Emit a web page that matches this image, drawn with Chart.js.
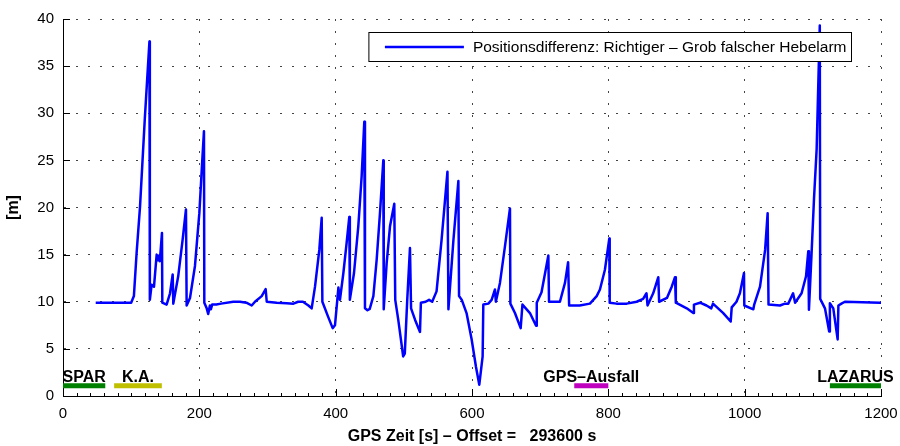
<!DOCTYPE html>
<html>
<head>
<meta charset="utf-8">
<script src="https://cdn.jsdelivr.net/npm/chart.js@4"></script>
<style>
    html, body { margin: 0; padding: 0; background: #fff; }
    #wrap { width: 900px; height: 446px; }
</style>
</head>
<body>
<div id="wrap"><canvas id="diffChart" width="900" height="446"></canvas></div>
<script>
// GPS time relative to offset [s]
const timeSec = [
    48, 100, 104, 108, 113, 120, 126.8, 127.4, 130, 133.5, 137.4, 139.8, 141, 142, 145.2, 145.7,
    152, 157, 160.9, 161.8, 169, 175.5, 180.4, 181.4, 186.3, 193.6, 200, 204.4, 206.8, 207.3,
    210.8, 213, 215.5, 217, 218.8, 225, 231.8, 249.8, 259.6, 269, 276.8, 281.6, 291.5, 297.3,
    298.9, 313.5, 328, 338, 345, 352, 360, 364.8, 369.7, 376, 379.5, 380.5, 389, 395.6, 399,
    402.4, 404, 406.3, 411.3, 416, 420, 420.8, 426.9, 433.2, 438.1, 442, 443, 446.6, 450,
    455.3, 460.2, 465, 469.9, 470.5, 474.8, 479.7, 486, 487.4, 491.8, 495.7, 499, 501.4, 505,
    509, 510.6, 516.4, 523.7, 525, 532, 537, 541.6, 548, 555.4, 564, 565.4, 572.7, 580, 581,
    585, 592, 599.5, 605.8, 610.7, 615.6, 616.6, 624, 628.8, 633.7, 635, 641, 648.4, 655.7,
    656.3, 663, 671.4, 674, 685, 694, 695, 702, 712, 713, 729, 736.4, 741, 742.5, 758, 773,
    782.9, 787.7, 795, 801.4, 802, 812, 827, 841.6, 851, 856, 857.5, 865.8, 873.3, 874.5, 886,
    893, 897.8, 899, 915, 924.7, 925.6, 934.5, 944, 951, 953.5, 968.6, 979.5, 981, 988, 993,
    999, 999.5, 1012.7, 1014, 1022.5, 1030, 1033.7, 1035, 1051.8, 1059, 1064, 1071, 1074,
    1083.5, 1090, 1093.3, 1094.3, 1098, 1101.7, 1105.6, 1110.2, 1110.8, 1117.8, 1124, 1125,
    1130, 1136.4, 1137.5, 1142, 1147, 1198.5, 1200
];

// position difference [m]
const posDiff = [
    9.9, 9.9, 10.6, 15.2, 20.1, 29.4, 37.6, 10.2, 11.8, 11.6, 15.0, 14.4, 14.9, 14.3, 17.3, 9.9,
    9.7, 10.9, 12.9, 9.8, 12.7, 16.6, 19.8, 9.6, 10.4, 13.8, 19.4, 25.1, 28.1, 9.9,
    9.3, 8.7, 9.6, 9.2, 9.7, 9.7, 9.8, 10.0, 10.0, 9.9, 9.6, 10.0, 10.6, 11.35,
    10.0, 9.9, 9.85, 9.8, 10.0, 10.0, 9.6, 9.3, 11.6, 15.5, 18.9, 10.0, 8.4, 7.2, 7.5,
    10.2, 11.5, 10.2, 13.05, 16.2, 19.0, 10.2, 13.05, 18.0, 23.3, 29.1, 9.3, 9.1, 9.25,
    10.6, 14.5, 19.4, 25.0, 9.2, 14.1, 18.0, 20.4, 10.2, 8.1, 6.0, 4.2, 4.5, 10.2,
    15.7, 9.3, 8.1, 6.8, 9.9, 10.0, 10.2, 10.0, 11.1, 16.6, 23.8, 9.2, 16.5, 22.8, 10.6,
    10.2, 8.8, 6.0, 3.1, 1.2, 4.2, 9.7, 9.8, 10.2, 11.3, 10.0, 12.0, 15.9, 19.9,
    9.8, 8.8, 7.2, 9.7, 8.8, 7.45, 9.9, 11.0, 14.9, 10.0, 10.0, 12.0, 14.2, 9.6, 9.6, 9.8,
    10.6, 11.3, 13.4, 16.7, 9.9, 9.8, 9.8, 10.0, 10.3, 10.9, 9.6, 10.9, 12.6, 10.0, 10.4,
    11.6, 12.6, 9.9, 9.3, 8.8, 9.7, 9.9, 9.6, 9.3, 9.8, 8.8, 7.9, 9.4, 10.0, 10.9,
    13.05, 9.6, 9.2, 9.7, 11.6, 15.5, 19.4, 9.7, 9.6, 9.8, 9.8, 10.9, 9.9,
    10.9, 12.7, 15.35, 9.15, 14.9, 20.9, 26.2, 39.3, 10.3, 9.3, 6.85, 9.85,
    9.3, 6.0, 9.6, 9.8, 10.0, 9.9, 9.9
];

// marked sections along the drive
const eventNames = ["SPAR", "K.A.", "GPS–Ausfall", "LAZARUS"];
const eventStart = [0, 75, 750, 1125];
const eventEnd = [62, 145, 800, 1200];
const eventLevel = 1.1;

const xTicks = [0, 200, 400, 600, 800, 1000, 1200];
const yTicks = [0, 5, 10, 15, 20, 25, 30, 35, 40];

const seriesLabel = "Positionsdifferenz: Richtiger – Grob falscher Hebelarm";
const xTitle = "GPS Zeit [s] – Offset =   293600 s";
const yTitle = "[m]";

const eventColors = ["#008000", "#bfbf00", "#bf00bf", "#008000"];
const fontFamily = "'Liberation Sans', Arial, Helvetica, sans-serif";

const datasets = [{
    label: seriesLabel,
    data: timeSec.map((t, i) => ({ x: t, y: posDiff[i] })),
    borderColor: "#0000ff",
    borderWidth: 2.5,
    pointRadius: 0,
    tension: 0,
    borderJoinStyle: "round",
    order: 1
}];

eventNames.forEach((name, i) => {
    datasets.push({
        label: name,
        data: [{ x: eventStart[i], y: eventLevel }, { x: eventEnd[i], y: eventLevel }],
        borderColor: eventColors[i],
        borderWidth: 5,
        borderCapStyle: "butt",
        pointRadius: 0,
        order: 2
    });
});

// inward ticks, section labels and the boxed legend
const decorations = {
    id: "decorations",
    afterDatasetsDraw(chart) {
        const ctx = chart.ctx;
        const area = chart.chartArea;
        const xs = chart.scales.x;
        const ys = chart.scales.y;

        ctx.save();
        ctx.strokeStyle = "#000";
        ctx.lineWidth = 1;
        ctx.beginPath();
        for (let v = 0; v <= 1200; v += 20) {
            const px = Math.round(xs.getPixelForValue(v)) + 0.5;
            const len = v % 200 === 0 ? 7 : 3;
            ctx.moveTo(px, area.bottom);
            ctx.lineTo(px, area.bottom - len);
        }
        yTicks.forEach(v => {
            const py = Math.round(ys.getPixelForValue(v)) + 0.5;
            ctx.moveTo(area.left, py);
            ctx.lineTo(area.left + 7, py);
        });
        ctx.stroke();

        // section labels above the coloured bars
        ctx.fillStyle = "#000";
        ctx.font = "bold 16px " + fontFamily;
        ctx.textAlign = "center";
        ctx.textBaseline = "alphabetic";
        eventNames.forEach((name, i) => {
            const cx = xs.getPixelForValue((eventStart[i] + eventEnd[i]) / 2);
            const cy = ys.getPixelForValue(eventLevel) - 4;
            ctx.fillText(name, cx, cy);
        });

        // legend box
        ctx.font = "15.5px " + fontFamily;
        const textW = ctx.measureText(seriesLabel).width;
        const boxRight = area.right - 29.5;
        const boxTop = area.top + 13.5;
        const boxH = 29;
        const boxW = 16 + 79 + 9 + textW + 5;
        const boxLeft = boxRight - boxW;
        ctx.fillStyle = "#fff";
        ctx.fillRect(boxLeft, boxTop, boxW, boxH);
        ctx.strokeStyle = "#000";
        ctx.lineWidth = 1;
        ctx.strokeRect(boxLeft, boxTop, boxW, boxH);
        const midY = boxTop + boxH / 2;
        ctx.strokeStyle = "#0000ff";
        ctx.lineWidth = 2.5;
        ctx.beginPath();
        ctx.moveTo(boxLeft + 16, midY);
        ctx.lineTo(boxLeft + 95, midY);
        ctx.stroke();
        ctx.fillStyle = "#000";
        ctx.textAlign = "left";
        ctx.textBaseline = "middle";
        ctx.fillText(seriesLabel, boxLeft + 104, midY + 1);
        ctx.restore();
    }
};

new Chart(document.getElementById("diffChart"), {
    type: "line",
    data: { datasets },
    plugins: [decorations],
    options: {
        responsive: false,
        animation: false,
        devicePixelRatio: 1,
        events: [],
        layout: { padding: { top: 19, right: 19, left: 0, bottom: 0 } },
        plugins: {
            legend: { display: false },
            tooltip: { enabled: false }
        },
        scales: {
            x: {
                type: "linear",
                min: 0,
                max: 1200,
                afterFit: s => {
                    s.height = 50;
                    s.paddingLeft = 0;
                    s.paddingRight = 0;
                },
                afterBuildTicks: s => { s.ticks = xTicks.map(v => ({ value: v })); },
                ticks: {
                    color: "#000",
                    padding: 9,
                    font: { family: fontFamily, size: 15 },
                    maxRotation: 0,
                    callback: v => String(v)
                },
                grid: { color: "#444", lineWidth: 1, drawTicks: false },
                border: { display: true, color: "#000", width: 1, dash: [2, 10] },
                title: {
                    display: true,
                    text: xTitle,
                    color: "#000",
                    font: { family: fontFamily, size: 16, weight: "bold" },
                    padding: { top: 0, bottom: 0 }
                }
            },
            y: {
                min: 0,
                max: 40,
                afterFit: s => {
                    s.width = 63;
                    s.paddingTop = 0;
                    s.paddingBottom = 0;
                },
                afterBuildTicks: s => { s.ticks = yTicks.map(v => ({ value: v })); },
                ticks: {
                    color: "#000",
                    padding: 9,
                    font: { family: fontFamily, size: 15 },
                    callback: v => String(v)
                },
                grid: { color: "#444", lineWidth: 1, drawTicks: false },
                border: { display: true, color: "#000", width: 1, dash: [2, 10] },
                title: {
                    display: true,
                    text: yTitle,
                    color: "#000",
                    font: { family: fontFamily, size: 16, weight: "bold" },
                    padding: { top: 4, bottom: 0 }
                }
            }
        }
    }
});
</script>
</body>
</html>
